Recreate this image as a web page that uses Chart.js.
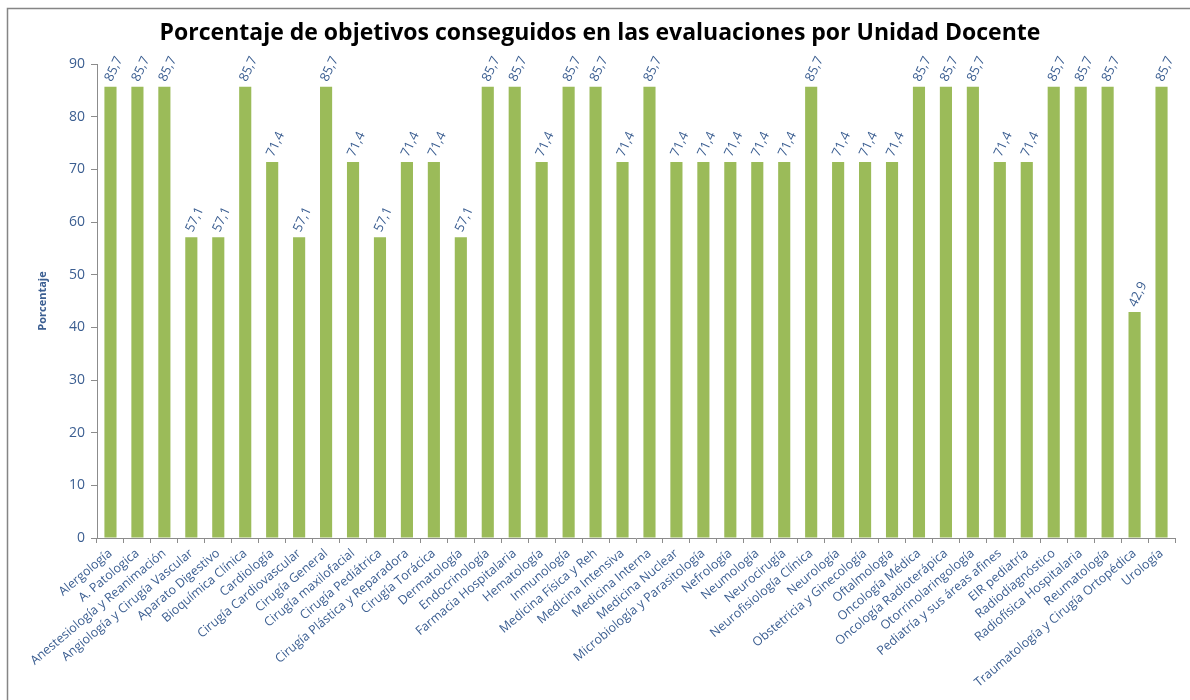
<!DOCTYPE html>
<html>
<head>
<meta charset="utf-8">
<script src="https://cdn.jsdelivr.net/npm/chart.js@4.4.1/dist/chart.umd.min.js"></script>
<style>
  html, body { margin: 0; padding: 0; background: #fff; }
  #wrap { width: 1190px; height: 700px; position: relative; }
</style>
</head>
<body>
<div id="wrap"><canvas id="chart" width="1190" height="700"></canvas></div>
<script>
// Porcentaje de objetivos por unidad docente
const chartTitle = 'Porcentaje de objetivos conseguidos en las evaluaciones por Unidad Docente';
const yAxisTitle = 'Porcentaje';

const unidades = [
  'Alergología', 'A. Patologica', 'Anestesiología y Reanimación', 'Angiología y Cirugía Vascular',
  'Aparato Digestivo', 'Bioquímica Clínica', 'Cardiología', 'Cirugía Cardiovascular',
  'Cirugía General', 'Cirugía maxilofacial', 'Cirugía Pediátrica', 'Cirugía Plástica y Reparadora',
  'Cirugía Torácica', 'Dermatología', 'Endocrinología', 'Farmacia Hospitalaria',
  'Hematología', 'Inmunología', 'Medicina Física y Reh', 'Medicina Intensiva',
  'Medicina Interna', 'Medicina Nuclear', 'Microbiología y Parasitología', 'Nefrología',
  'Neumología', 'Neurocirugía', 'Neurofisiología Clínica', 'Neurología',
  'Obstetricia y Ginecología', 'Oftalmología', 'Oncología Médica', 'Oncología Radioterápica',
  'Otorrinolaringología', 'Pediatría y sus áreas afines', 'EIR pediatría', 'Radiodiagnóstico',
  'Radiofísica Hospitalaria', 'Reumatología', 'Traumatología y Cirugía Ortopédica', 'Urología'
];

const porcentajes = [
  85.7, 85.7, 85.7, 57.1,
  57.1, 85.7, 71.4, 57.1,
  85.7, 71.4, 57.1, 71.4,
  71.4, 57.1, 85.7, 85.7,
  71.4, 85.7, 85.7, 71.4,
  85.7, 71.4, 71.4, 71.4,
  71.4, 71.4, 85.7, 71.4,
  71.4, 71.4, 85.7, 85.7,
  85.7, 71.4, 71.4, 85.7,
  85.7, 85.7, 42.9, 85.7
];

const yTicks = [0, 10, 20, 30, 40, 50, 60, 70, 80, 90];

const colors = {
  bar: '#9bbb59',
  text: '#3b5e91',
  axis: '#8c8c8c',
  frame: '#858585',
  title: '#000000'
};
const FONT = "'Open Sans', 'DejaVu Sans', sans-serif";

// frame, title, y-axis title and the rotated value labels
const decorPlugin = {
  id: 'decor',
  afterDraw(chart) {
    const ctx = chart.ctx;
    ctx.save();
    ctx.strokeStyle = colors.frame;
    ctx.lineWidth = 1.5;
    ctx.beginPath();
    ctx.moveTo(7.5, 700);
    ctx.lineTo(7.5, 8.5);
    ctx.lineTo(1190, 8.5);
    ctx.stroke();

    ctx.fillStyle = colors.title;
    ctx.font = 'bold 23px ' + FONT;
    ctx.textAlign = 'center';
    ctx.textBaseline = 'middle';
    ctx.fillText(chartTitle, 600, 33);

    const area = chart.chartArea;
    ctx.fillStyle = colors.text;
    ctx.font = 'bold 11px ' + FONT;
    ctx.translate(43, (area.top + area.bottom) / 2);
    ctx.rotate(-Math.PI / 2);
    ctx.fillText(yAxisTitle, 0, 0);
    ctx.restore();

    const meta = chart.getDatasetMeta(0);
    ctx.save();
    ctx.fillStyle = colors.text;
    ctx.font = '13px ' + FONT;
    ctx.textAlign = 'left';
    ctx.textBaseline = 'middle';
    meta.data.forEach((bar, i) => {
      const txt = porcentajes[i].toFixed(1).replace('.', ',');
      ctx.save();
      ctx.translate(bar.x - 2, bar.y - 6);
      ctx.rotate(-65 * Math.PI / 180);
      ctx.fillText(txt, 0, 0);
      ctx.restore();
    });
    ctx.restore();
  }
};

new Chart(document.getElementById('chart'), {
  type: 'bar',
  data: {
    labels: unidades,
    datasets: [{
      data: porcentajes,
      backgroundColor: colors.bar,
      borderWidth: 0,
      barPercentage: 0.45,
      categoryPercentage: 1
    }]
  },
  options: {
    responsive: false,
    animation: false,
    layout: { padding: { top: 64, right: 15, left: 0, bottom: 0 } },
    plugins: { legend: { display: false }, tooltip: { enabled: false }, title: { display: false } },
    scales: {
      x: {
        grid: { display: true, drawOnChartArea: false, offset: true, color: colors.axis, tickLength: 5 },
        border: { color: colors.axis },
        ticks: {
          color: colors.text,
          font: { family: FONT, size: 12.5 },
          autoSkip: false,
          minRotation: 40,
          maxRotation: 40,
          padding: 3
        },
        afterFit(scale) { scale.height = 162; }
      },
      y: {
        min: 0,
        max: 90,
        afterBuildTicks(scale) { scale.ticks = yTicks.map(v => ({ value: v })); },
        grid: { display: true, drawOnChartArea: false, color: colors.axis, tickLength: 6 },
        border: { color: colors.axis },
        ticks: {
          color: colors.text,
          font: { family: FONT, size: 14 },
          padding: 6
        },
        afterFit(scale) { scale.width = 97; }
      }
    }
  },
  plugins: [decorPlugin]
});
</script>
</body>
</html>
